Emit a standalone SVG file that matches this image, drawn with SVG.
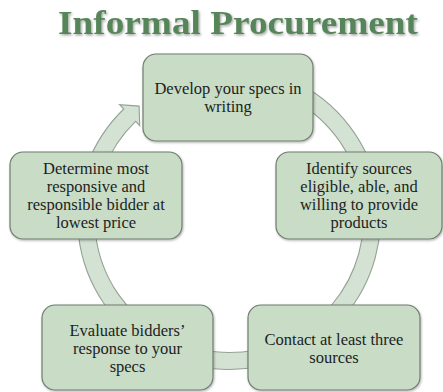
<svg xmlns="http://www.w3.org/2000/svg" width="443" height="392" viewBox="0 0 443 392">
<defs>
<filter id="ts" x="-5%" y="-20%" width="110%" height="150%">
<feDropShadow dx="1.2" dy="1.5" stdDeviation="0.8" flood-color="#000" flood-opacity="0.35"/>
</filter>
<filter id="bs" x="-10%" y="-10%" width="120%" height="125%">
<feDropShadow dx="0.8" dy="1.2" stdDeviation="1.2" flood-color="#000" flood-opacity="0.3"/>
</filter>
</defs>
<style>
.title{font-family:"Liberation Serif",serif;font-weight:bold;font-size:34px;fill:#56855a;}
.box{fill:#c8dcc6;stroke:#707d70;stroke-width:1.2;}
.lbl{font-family:"Liberation Serif",serif;font-size:16.5px;fill:#1e1e1e;text-anchor:middle;}
.ring{fill:#d4e2d3;stroke:#93a393;stroke-width:1.1;}
</style>
<rect width="443" height="392" fill="#ffffff"/>
<text class="title" x="238" y="34" text-anchor="middle" textLength="360" lengthAdjust="spacingAndGlyphs" filter="url(#ts)">Informal Procurement</text>
<g id="connectors">
<path class="ring" d="M 229 66.5 A 151.5 151.5 0 1 1 123.8 109.0 L 119.6 104.7 L 139.1 106.1 L 139.7 125.6 L 135.6 121.3 A 134.5 134.5 0 1 0 229 83.5 Z"/>
</g>
<g id="n1">
<rect class="box" x="143" y="54" width="170" height="87" rx="13" filter="url(#bs)"/>
<text class="lbl" x="228" y="94"><tspan x="228" y="94">Develop your specs in</tspan><tspan x="228" y="112">writing</tspan></text>
</g>
<g id="n2">
<rect class="box" x="276" y="152" width="166" height="87" rx="13" filter="url(#bs)"/>
<text class="lbl" x="359"><tspan x="359" y="174">Identify sources</tspan><tspan x="359" y="192">eligible, able, and</tspan><tspan x="359" y="210">willing to provide</tspan><tspan x="359" y="228">products</tspan></text>
</g>
<g id="n3">
<rect class="box" x="248" y="305" width="172" height="85" rx="13" filter="url(#bs)"/>
<text class="lbl" x="334"><tspan x="334" y="345">Contact at least three</tspan><tspan x="334" y="363">sources</tspan></text>
</g>
<g id="n4">
<rect class="box" x="42" y="305" width="171" height="85" rx="13" filter="url(#bs)"/>
<text class="lbl" x="127.5"><tspan x="127.5" y="336">Evaluate bidders’</tspan><tspan x="127.5" y="354">response to your</tspan><tspan x="127.5" y="372">specs</tspan></text>
</g>
<g id="n5">
<rect class="box" x="10" y="152" width="172" height="87" rx="13" filter="url(#bs)"/>
<text class="lbl" x="96"><tspan x="96" y="174">Determine most</tspan><tspan x="96" y="192">responsive and</tspan><tspan x="96" y="210">responsible bidder at</tspan><tspan x="96" y="228">lowest price</tspan></text>
</g>
</svg>
